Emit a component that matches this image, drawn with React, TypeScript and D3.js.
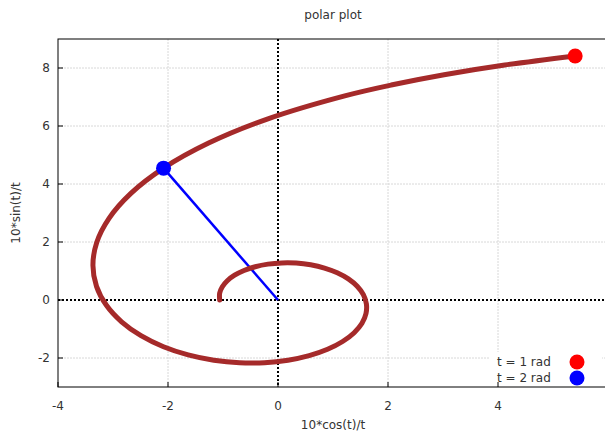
import React from "react";
import * as d3 from "d3";

// Curve points (x = 10*cos(t)/t, y = 10*sin(t)/t)
const curveX = [5.403, 4.124, 3.020, 2.058, 1.214, -0.183, -1.262, -2.081, -2.675, -3.072, -3.296, -3.365, -3.300, -3.120, -2.844, -2.491, -2.082, -1.634, -1.167, -0.698, -0.244, 0.182, 0.567, 0.901, 1.175, 1.385, 1.527, 1.600, 1.607, 1.552, 1.440, 1.279, 1.077, 0.845, 0.593, 0.331, 0.069, -0.182, -0.414, -0.618, -0.789, -0.922, -1.012, -1.060, -1.061];
const curveY = [8.415, 8.102, 7.767, 7.412, 7.039, 6.247, 5.410, 4.546, 3.675, 2.815, 1.983, 1.196, 0.470, -0.183, -0.751, -1.229, -1.610, -1.892, -2.075, -2.163, -2.160, -2.075, -1.918, -1.699, -1.431, -1.127, -0.801, -0.466, -0.134, 0.182, 0.472, 0.727, 0.939, 1.102, 1.214, 1.274, 1.280, 1.237, 1.147, 1.017, 0.854, 0.665, 0.458, 0.242, 0.0];

const markerLabels = ["t = 1 rad", "t = 2 rad"];
const markerX = [5.403, -2.081];
const markerY = [8.415, 4.546];
const markerColors = ["#ff0000", "#0000ff"];

const xTicks = [-4, -2, 0, 2, 4];
const yTicks = [-2, 0, 2, 4, 6, 8];
const xDomain = [-4, 6];
const yDomain = [-3, 9];

const W = 605;
const H = 434;
const left = 58;
const top = 39;
const plotW = 550;
const plotH = 348;

export default function App() {
  const x = d3.scaleLinear().domain(xDomain).range([left, left + plotW]);
  const y = d3.scaleLinear().domain(yDomain).range([top + plotH, top]);
  const pts: [number, number][] = curveX.map((v, i) => [v, curveY[i]]);
  const line = d3
    .line<[number, number]>()
    .x((d) => x(d[0]))
    .y((d) => y(d[1]))
    .curve(d3.curveCatmullRom);
  const font = "'DejaVu Sans', Verdana, sans-serif";
  const textColor = "#333";
  const bottom = top + plotH;
  return (
    <div style={{ position: "absolute", left: 0, top: 0 }}>
      <svg width={W} height={H} style={{ display: "block", background: "#fff" }} fontFamily={font}>
        <defs>
          <clipPath id="plotclip">
            <rect x={left} y={top} width={plotW} height={plotH} />
          </clipPath>
        </defs>
        {/* grid */}
        {xTicks.filter((t) => t !== 0 && t !== xDomain[0]).map((t) => (
          <line key={"gx" + t} x1={x(t)} x2={x(t)} y1={top} y2={bottom} stroke="#d8d8d8" strokeWidth={1} strokeDasharray="2,1" />
        ))}
        {yTicks.filter((t) => t !== 0).map((t) => (
          <line key={"gy" + t} x1={left} x2={left + plotW} y1={y(t)} y2={y(t)} stroke="#d8d8d8" strokeWidth={1} strokeDasharray="2,1" />
        ))}
        {/* zero axes */}
        <line x1={x(0)} x2={x(0)} y1={top} y2={bottom} stroke="#000" strokeWidth={2} strokeDasharray="2,2" />
        <line x1={left} x2={left + plotW} y1={y(0)} y2={y(0)} stroke="#000" strokeWidth={2} strokeDasharray="2,2" />
        {/* legend box background */}
        <rect x={490} y={352} width={112} height={34} fill="#fff" />
        {/* border */}
        <rect x={left} y={top} width={plotW} height={plotH} fill="none" stroke="#000" strokeWidth={1} />
        {/* ticks */}
        {xTicks.map((t) => (
          <line key={"tx" + t} x1={x(t)} x2={x(t)} y1={bottom} y2={bottom - 5} stroke="#000" />
        ))}
        {yTicks.map((t) => (
          <line key={"ty" + t} x1={left} x2={left + 5} y1={y(t)} y2={y(t)} stroke="#000" />
        ))}
        <g clipPath="url(#plotclip)">
          {/* blue radius */}
          <line x1={x(0)} y1={y(0)} x2={x(markerX[1])} y2={y(markerY[1])} stroke="#0000ff" strokeWidth={2.5} />
          <path d={line(pts) || ""} fill="none" stroke="#a52a2a" strokeWidth={5} strokeLinecap="round" strokeLinejoin="round" />
          {markerX.map((mx, i) => (
            <circle key={"m" + i} cx={x(mx)} cy={y(markerY[i])} r={7.5} fill={markerColors[i]} />
          ))}
        </g>
        {/* tick labels */}
        {xTicks.map((t) => (
          <text key={"lx" + t} x={x(t)} y={406} textAnchor="middle" dominantBaseline="central" fontSize={12} fill={textColor}>
            {t}
          </text>
        ))}
        {yTicks.map((t) => (
          <text key={"ly" + t} x={50} y={y(t)} textAnchor="end" dominantBaseline="central" fontSize={12} fill={textColor}>
            {t}
          </text>
        ))}
        {/* titles */}
        <text x={333} y={15} textAnchor="middle" dominantBaseline="central" fontSize={12} fill={textColor}>
          polar plot
        </text>
        <text x={333} y={425} textAnchor="middle" dominantBaseline="central" fontSize={12} fill={textColor}>
          10*cos(t)/t
        </text>
        <text transform={`translate(16,${top + plotH / 2}) rotate(-90)`} textAnchor="middle" dominantBaseline="central" fontSize={12} fill={textColor}>
          10*sin(t)/t
        </text>
        {/* legend */}
        {markerLabels.map((lab, i) => (
          <g key={"lg" + i}>
            <text x={497} y={362 + i * 16} dominantBaseline="central" fontSize={12} fill={textColor}>
              {lab}
            </text>
            <circle cx={577} cy={362 + i * 16} r={7.5} fill={markerColors[i]} />
          </g>
        ))}
      </svg>
    </div>
  );
}
